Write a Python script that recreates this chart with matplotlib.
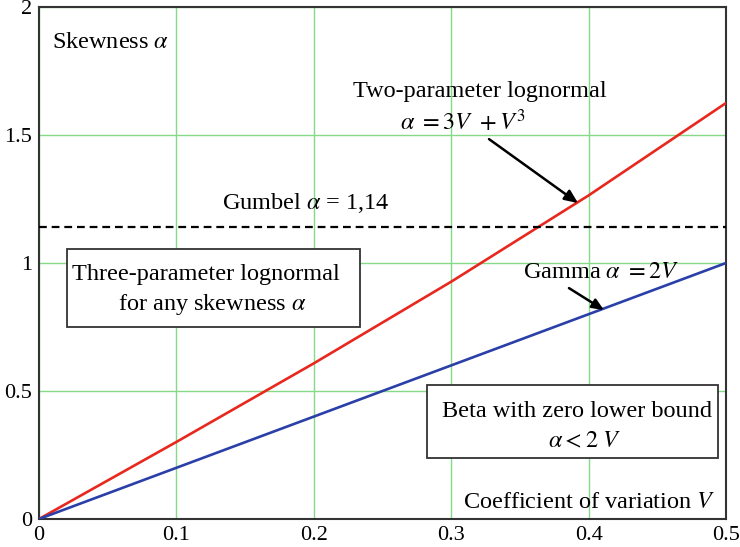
import matplotlib
matplotlib.use("Agg")
import matplotlib.pyplot as plt
from matplotlib.patches import Rectangle

plt.rcParams['font.family'] = ['Liberation Serif', 'DejaVu Serif']
plt.rcParams['mathtext.fontset'] = 'stix'

# values
cov = [0.0, 0.1, 0.2, 0.3, 0.4, 0.5]
lognormal_skew = [0.0, 0.301, 0.608, 0.927, 1.264, 1.625]
gamma_skew = [0.0, 0.2, 0.4, 0.6, 0.8, 1.0]
gumbel_skew = 1.14

x_ticks = [0, 0.1, 0.2, 0.3, 0.4, 0.5]
x_tick_labels = ["0", "0.1", "0.2", "0.3", "0.4", "0.5"]
y_ticks = [0, 0.5, 1, 1.5, 2]
y_tick_labels = ["0", "0.5", "1", "1.5", "2"]

fig = plt.figure(figsize=(7.4, 5.47), dpi=100)
ax = fig.add_axes([0.0527, 0.0512, 0.9284, 0.936])

ax.plot(cov, lognormal_skew, color="#e8281e", lw=1.9, zorder=3)
ax.plot(cov, gamma_skew, color="#2a3fa8", lw=1.9, zorder=3)
ax.axhline(gumbel_skew, color="black", lw=1.6, ls=(0, (3.5, 2.2)), zorder=3)

ax.set_xlim(0, 0.5)
ax.set_ylim(0, 2)
ax.set_xticks(x_ticks, x_tick_labels)
ax.set_yticks(y_ticks, y_tick_labels)
ax.tick_params(length=0, labelsize=16, pad=5)
ax.grid(True, color="#86d986", lw=1.0)
ax.set_axisbelow(True)
for s in ax.spines.values():
    s.set_color("#333333")
    s.set_linewidth(1.5)

fs = 17.5
ax.text(0.0095, 1.86, r"Skewness $\alpha$", fontsize=fs, va="center", ha="left")
ax.text(0.2285, 1.668, "Two-parameter lognormal", fontsize=fs, ha="left", va="center")
ax.text(0.2627, 1.55, r"$\alpha\ = 3V\ + V^{3}$", fontsize=fs, ha="left", va="center")
ax.annotate("", xy=(0.3923, 1.234), xytext=(0.3275, 1.484),
            arrowprops=dict(arrowstyle="-|>,head_length=0.8,head_width=0.35",
                            color="black", lw=1.8, shrinkA=0, shrinkB=0))
ax.text(0.1332, 1.234, r"Gumbel $\alpha$ = 1,14", fontsize=fs, ha="left", va="center")

# box: three-parameter lognormal
ax.add_patch(Rectangle((0.0204, 0.75), 0.2132, 0.305, fc="white", ec="#333333",
                       lw=1.3, zorder=5))
ax.text(0.024, 0.955, "Three-parameter lognormal", fontsize=fs, ha="left",
        va="center", zorder=6)
ax.text(0.0575, 0.836, r"for any skewness $\alpha$", fontsize=fs, ha="left",
        va="center", zorder=6)

ax.text(0.3523, 0.961, r"Gamma $\alpha\ = 2V$", fontsize=fs, ha="left", va="center")
ax.annotate("", xy=(0.4112, 0.816), xytext=(0.3857, 0.902),
            arrowprops=dict(arrowstyle="-|>,head_length=0.7,head_width=0.3",
                            color="black", lw=1.8, shrinkA=0, shrinkB=0))

# box: beta
ax.add_patch(Rectangle((0.2824, 0.238), 0.2118, 0.285, fc="white", ec="#333333",
                       lw=1.3, zorder=5))
ax.text(0.2933, 0.418, "Beta with zero lower bound", fontsize=fs, ha="left",
        va="center", zorder=6)
ax.text(0.3705, 0.301, r"$\alpha < 2\ V$", fontsize=fs, ha="left",
        va="center", zorder=6)

ax.text(0.492, 0.0625, r"Coefficient of variation $V$", fontsize=fs, ha="right", va="center")

fig.savefig("out.png", dpi=100)
